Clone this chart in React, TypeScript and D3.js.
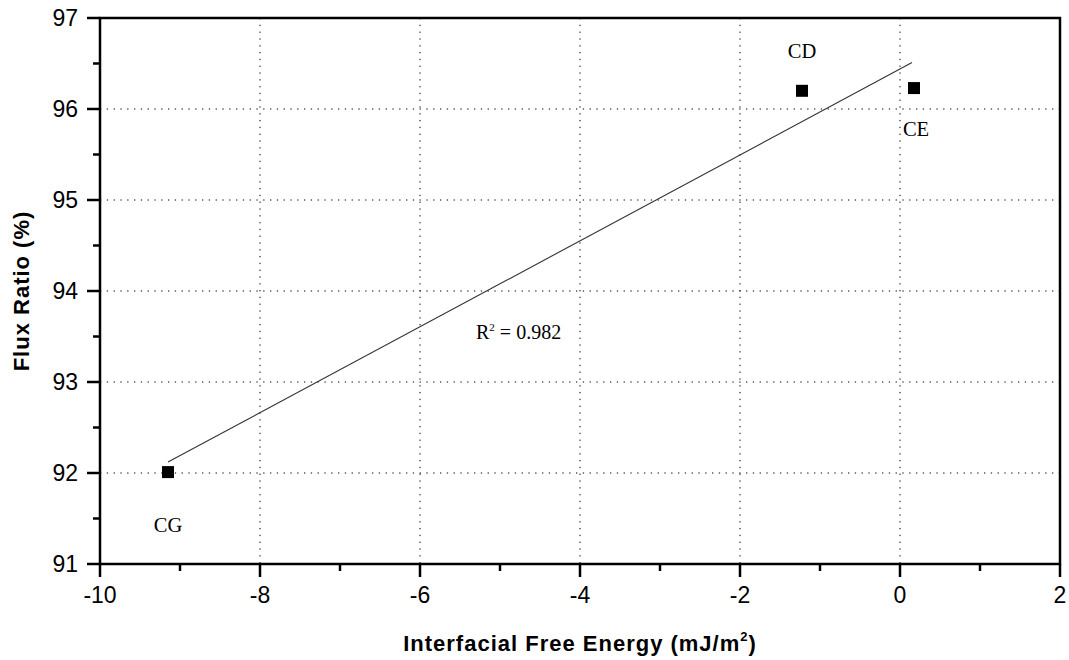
import React from "react";
import * as d3 from "d3";

const sampleNames = ["CG", "CD", "CE"];
const energyValues = [-9.15, -1.225, 0.175];
const fluxValues = [92.01, 96.2, 96.23];
const fitX = [-9.15, 0.15];
const fitY = [92.12, 96.51];
const xTicks = [-10, -8, -6, -4, -2, 0, 2];
const yTicks = [91, 92, 93, 94, 95, 96, 97];
const xMinor = [-9, -7, -5, -3, -1, 1];
const yMinor = [91.5, 92.5, 93.5, 94.5, 95.5, 96.5];
const r2Text = "0.982";

const W = 1069, H = 660;
const left = 100, right = 1060, top = 18, bottom = 564;

export default function App() {
  const x = d3.scaleLinear().domain([-10, 2]).range([left, right]);
  const y = d3.scaleLinear().domain([91, 97]).range([bottom, top]);
  const line = d3.line<number>().x((d, i) => x(fitX[i])).y((d, i) => y(fitY[i]));
  const labelOffsets: Record<string, [number, number]> = { CG: [0, 60], CD: [0, -33], CE: [2, 48] };
  const sans = "Arial, 'Liberation Sans', sans-serif";
  const serif = "'Times New Roman', 'Liberation Serif', serif";
  return (
    <svg width={W} height={H} style={{ position: "absolute", left: 0, top: 0, background: "#fff" }}>
      {/* grid */}
      {xTicks.filter(t => t > -10 && t < 2).map(t => (
        <line key={"gx" + t} x1={x(t)} x2={x(t)} y1={top} y2={bottom} stroke="#000" strokeWidth={1} strokeDasharray="1.3 5.5" />
      ))}
      {yTicks.filter(t => t > 91 && t < 97).map(t => (
        <line key={"gy" + t} x1={left} x2={right} y1={y(t)} y2={y(t)} stroke="#000" strokeWidth={1} strokeDasharray="1.3 5.5" />
      ))}
      {/* fit line */}
      <path d={line(fitX) || ""} fill="none" stroke="#333" strokeWidth={1.1} />
      {/* points */}
      {energyValues.map((e, i) => (
        <rect key={"p" + i} x={x(e) - 6} y={y(fluxValues[i]) - 6} width={12} height={12} fill="#000" />
      ))}
      {sampleNames.map((n, i) => (
        <text key={"l" + n} x={x(energyValues[i]) + labelOffsets[n][0]} y={y(fluxValues[i]) + labelOffsets[n][1]}
          textAnchor="middle" fontFamily={serif} fontSize={20.5} fill="#000">{n}</text>
      ))}
      <text x={x(-5.3)} y={y(93.47)} fontFamily={serif} fontSize={20} fill="#000">
        R<tspan fontSize={11} dy={-8}>2</tspan><tspan dy={8}> = {r2Text}</tspan>
      </text>
      {/* frame */}
      <rect x={left} y={top} width={right - left} height={bottom - top} fill="none" stroke="#000" strokeWidth={2.5} />
      {/* ticks */}
      {xTicks.map(t => (
        <line key={"tx" + t} x1={x(t)} x2={x(t)} y1={bottom} y2={bottom + 13} stroke="#000" strokeWidth={2.5} />
      ))}
      {xMinor.map(t => (
        <line key={"mx" + t} x1={x(t)} x2={x(t)} y1={bottom} y2={bottom + 7} stroke="#000" strokeWidth={2.5} />
      ))}
      {yTicks.map(t => (
        <line key={"ty" + t} x1={left - 13} x2={left} y1={y(t)} y2={y(t)} stroke="#000" strokeWidth={2.5} />
      ))}
      {yMinor.map(t => (
        <line key={"my" + t} x1={left - 7} x2={left} y1={y(t)} y2={y(t)} stroke="#000" strokeWidth={2.5} />
      ))}
      {xTicks.map(t => (
        <text key={"xl" + t} x={x(t)} y={603} textAnchor="middle" fontFamily={sans} fontSize={23} fill="#000">{t}</text>
      ))}
      {yTicks.map(t => (
        <text key={"yl" + t} x={78} y={y(t) + 8} textAnchor="end" fontFamily={sans} fontSize={23} fill="#000">{t}</text>
      ))}
      <text x={580} y={651} textAnchor="middle" fontFamily={sans} fontSize={22} fontWeight="bold" letterSpacing={1} fill="#000">
        Interfacial Free Energy (mJ/m<tspan fontSize={13} dy={-10}>2</tspan><tspan dy={10}>)</tspan>
      </text>
      <text transform={`translate(29, ${y(94)}) rotate(-90)`} textAnchor="middle" fontFamily={sans} fontSize={22} fontWeight="bold" letterSpacing={1} fill="#000">
        Flux Ratio (%)
      </text>
    </svg>
  );
}
